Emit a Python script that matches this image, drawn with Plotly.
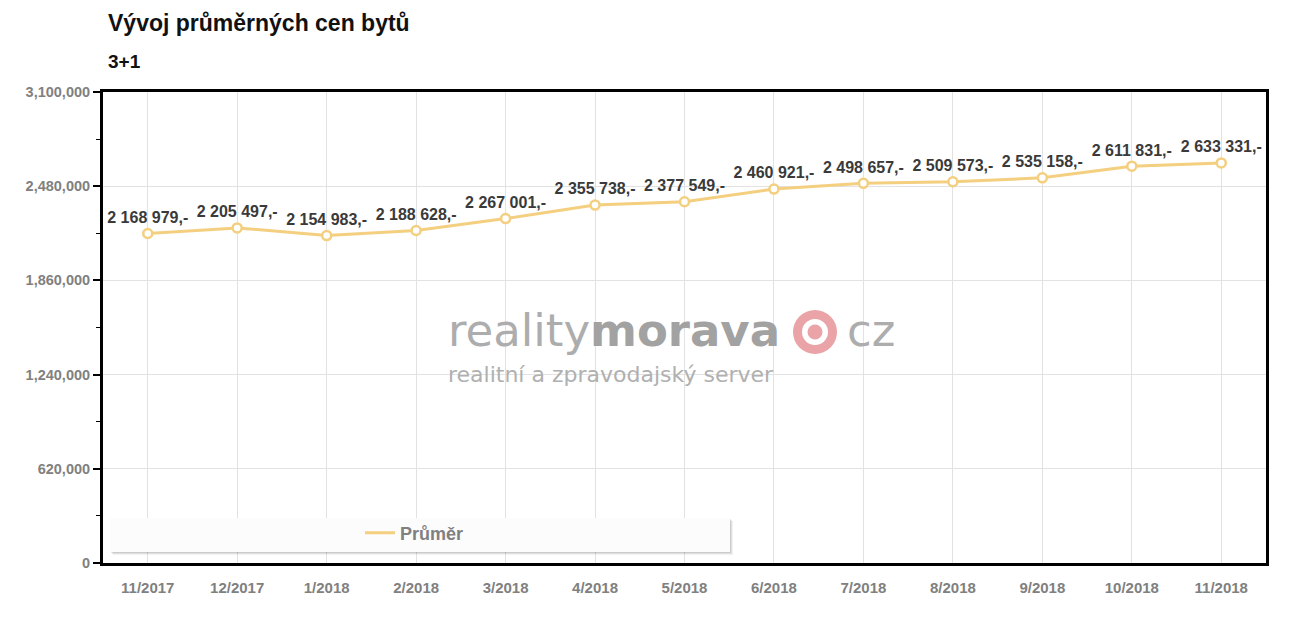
import plotly.graph_objects as go

categories = ["11/2017", "12/2017", "1/2018", "2/2018", "3/2018", "4/2018", "5/2018",
              "6/2018", "7/2018", "8/2018", "9/2018", "10/2018", "11/2018"]
prices = [2168979, 2205497, 2154983, 2188628, 2267001, 2355738, 2377549,
          2460921, 2498657, 2509573, 2535158, 2611831, 2633331]
y_ticks = [0, 620000, 1240000, 1860000, 2480000, 3100000]
series_name = "Průměr"
title = "Vývoj průměrných cen bytů"
subtitle = "3+1"

LINE = "#F3CF7F"
FONT = "Liberation Sans, Arial, sans-serif"
WM = "DejaVu Sans, sans-serif"

def fmt(v):
    return f"{v:,}".replace(",", " ") + ",-"

labels = [fmt(v) for v in prices]

fig = go.Figure()
fig.add_trace(go.Scatter(
    x=categories, y=prices, mode="lines+markers+text",
    text=labels, textposition="top center",
    textfont=dict(family=FONT, size=16, color="#3a3a3a", weight="bold"),
    line=dict(color=LINE, width=3),
    marker=dict(symbol="circle", size=9, color="white", line=dict(color=LINE, width=2.5)),
    showlegend=False, cliponaxis=False,
))
fig.add_trace(go.Scatter(
    x=[None], y=[None], mode="lines", name=series_name,
    line=dict(color=LINE, width=3), showlegend=True,
))

W, H = 1302, 624
L, R, T, B = 103, 36, 92, 61
pw, ph = W - L - R, H - T - B

def px(x):
    return (x - L) / pw

def py(y):
    return (H - B - y) / ph

shapes = []
# legend box with soft shadow
for off, a in [(3, 0.05), (2, 0.07), (1, 0.09)]:
    shapes.append(dict(type="rect", xref="paper", yref="paper",
                       x0=px(110 + off), x1=px(730 + off), y0=py(552 + off), y1=py(518 + off),
                       fillcolor=f"rgba(0,0,0,{a})", line=dict(width=0), layer="above"))
shapes.append(dict(type="rect", xref="paper", yref="paper",
                   x0=px(110), x1=px(730), y0=py(552), y1=py(518),
                   fillcolor="rgb(252,252,252)", line=dict(width=0), layer="above"))
# watermark target
cx, cy = 815, 332
for r, col in [(22, "#EAA3A6"), (13, "white"), (7.5, "#EAA3A6")]:
    shapes.append(dict(type="circle", xref="paper", yref="paper",
                       x0=px(cx - r), x1=px(cx + r), y0=py(cy + r), y1=py(cy - r),
                       fillcolor=col, line=dict(width=0), layer="below"))

annotations = [
    dict(text=f"<b>{title}</b>", xref="paper", yref="paper", x=px(106), y=py(23),
         xanchor="left", yanchor="middle", showarrow=False,
         font=dict(family=FONT, size=23, color="#111")),
    dict(text=f"<b>{subtitle}</b>", xref="paper", yref="paper", x=px(106), y=py(61),
         xanchor="left", yanchor="middle", showarrow=False,
         font=dict(family=FONT, size=19, color="#111")),
    dict(text="reality", xref="paper", yref="paper", x=px(446), y=py(330),
         xanchor="left", yanchor="middle", showarrow=False,
         font=dict(family=WM, size=45, color="#adadad")),
    dict(text="<b>morava</b>", xref="paper", yref="paper", x=px(588), y=py(330),
         xanchor="left", yanchor="middle", showarrow=False,
         font=dict(family=WM, size=45, color="#a2a2a2")),
    dict(text="cz", xref="paper", yref="paper", x=px(845), y=py(330),
         xanchor="left", yanchor="middle", showarrow=False,
         font=dict(family=WM, size=45, color="#adadad")),
    dict(text="realitní a zpravodajský server", xref="paper", yref="paper", x=px(446), y=py(374),
         xanchor="left", yanchor="middle", showarrow=False,
         font=dict(family=WM, size=22, color="#b0b0b0")),
]

fig.update_layout(
    width=W, height=H,
    margin=dict(l=L, r=R, t=T, b=B),
    paper_bgcolor="white", plot_bgcolor="white",
    font=dict(family=FONT),
    shapes=shapes, annotations=annotations,
    legend=dict(x=px(360), y=py(533), xanchor="left", yanchor="middle",
                bgcolor="rgba(0,0,0,0)", borderwidth=0, itemwidth=30,
                font=dict(family=FONT, size=18, color="#808080", weight="bold")),
    xaxis=dict(
        type="category", range=[-0.5, len(categories) - 0.5],
        showgrid=True, gridcolor="#e2e2e2", gridwidth=1,
        showline=True, linecolor="black", linewidth=3, mirror=True,
        ticks="", tickfont=dict(family=FONT, size=15, color="#808080", weight="bold"),
        ticklabelstandoff=9, zeroline=False,
    ),
    yaxis=dict(
        range=[0, 3100000], tickvals=y_ticks, tickformat=",d",
        showgrid=True, gridcolor="#e2e2e2", gridwidth=1,
        showline=True, linecolor="black", linewidth=3, mirror=True,
        ticks="outside", ticklen=7, tickwidth=2, tickcolor="black",
        minor=dict(ticks="outside", ticklen=4, tickwidth=1, tickcolor="black",
                   dtick=310000, showgrid=False),
        tickfont=dict(family=FONT, size=14.5, color="#808080", weight="bold"),
        zeroline=False,
    ),
)

fig.write_html("out.html")
